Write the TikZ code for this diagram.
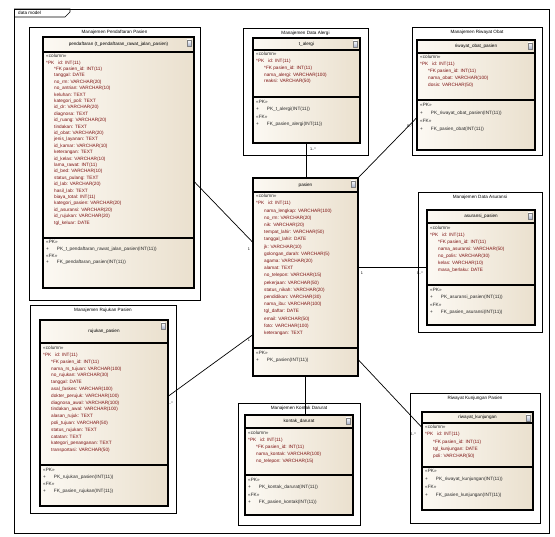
\documentclass[tikz,border=0pt]{standalone}
\usepackage{fontspec}
\newfontfamily\eafont{Liberation Sans}
\usetikzlibrary{fit}

\definecolor{tblleft}{RGB}{252,249,243}
\definecolor{tblright}{RGB}{234,224,206}
\definecolor{fieldred}{RGB}{125,18,18}
\definecolor{opgray}{RGB}{40,40,40}
\definecolor{iconblue}{RGB}{170,180,205}

\tikzset{
	framebox/.style={draw=black, line width=0.6pt},
	pkgbox/.style={draw=black, fill=white, line width=0.7pt, inner sep=0pt},
	pkgtitle/.style={font=\eafont\fontsize{4.6}{5}\selectfont, inner sep=0pt},
	tblbox/.style={draw=black, line width=1.1pt, inner sep=0pt},
	tblname/.style={font=\eafont\fontsize{4.6}{5}\selectfont, inner sep=0pt},
	tbltext/.style={font=\eafont\fontsize{4.7}{#1}\selectfont, align=left, anchor=north west, inner sep=0pt, text=fieldred},
	tbltext/.default=6.6,
	optext/.style={font=\eafont\fontsize{4.7}{#1}\selectfont, align=left, anchor=north west, inner sep=0pt, text=opgray},
	optext/.default=7,
	link/.style={draw=black, line width=0.7pt},
	mult/.style={font=\eafont\fontsize{3.8}{4}\selectfont, inner sep=0.5pt},
}

% #1 name, #2 x0, #3 y0, #4 x1, #5 y1, #6 title
\newcommand\pkgframe[6]{%
	\node[pkgbox, fit={(#2,#3)(#4,#5)}] (#1) {};
	\node[pkgtitle] at ({(#2+#4)/2},{#3+5}) {#6};
}
% #1 name, #2 x0, #3 y0, #4 x1, #5 head, #6 sep, #7 y1, #8 title
\newcommand\tablebox[8]{%
	\shade[left color=tblleft, right color=tblright] (#2,#3) rectangle (#4,#7);
	\node[tblbox, fit={(#2,#3)(#4,#7)}] (#1) {};
	\draw[line width=1.1pt] (#2,#5) -- (#4,#5);
	\draw[line width=1.1pt] (#2,#6) -- (#4,#6);
	\node[tblname] at ({(#2+#4)/2},{(#3+#5)/2}) {#8};
	\shade[top color=white, bottom color=iconblue, draw=gray] ({#4-7},{#3+3}) rectangle ({#4-3},{#3+9});
}
\newcommand\fld[1]{\hspace*{8pt}#1}
\newcommand\opr[1]{+\hspace*{8pt}#1}

\begin{document}
\begin{tikzpicture}[x=1pt,y=1pt,yscale=-1]
	\useasboundingbox (0,0) rectangle (555,537);
	% diagram frame
	\draw[framebox] (14,9) rectangle (549,533);
	\draw[framebox] (14,9) -- (70,9) -- (70,12) -- (65,17) -- (14,17);
	\node[pkgtitle, anchor=west] at (18,13) {data model};

	% packages
	\pkgframe{pkgdaftar}{29}{27}{200}{300}{Manajemen Pendaftaran Pasien}
	\pkgframe{pkgalergi}{243}{28}{368}{155}{Manajemen Data Alergi}
	\pkgframe{pkgobat}{412}{27}{542}{155}{Manajemen Riwayat Obat}
	\pkgframe{pkgasuransi}{418}{192}{542}{332}{Manajemen Data Asuransi}
	\pkgframe{pkgkontak}{238}{403}{360}{525}{Manajemen Kontak Darurat}
	\pkgframe{pkgkunjungan}{410}{393}{540}{523}{Riwayat Kunjungan Pasien}
	\pkgframe{pkgrujukan}{30}{305}{176}{513}{Manajemen Rujukan Pasien}

	% tables
	\tablebox{daftar}{43}{37}{194}{52}{238}{288}{pendaftaran (t\_pendaftaran\_rawat\_jalan\_pasien)}
	\node[tbltext=6.4] at (46,54) {\textcolor{opgray}{«column»}\\
		*PK\hspace*{4pt}id: INT(11)\\
		\fld{*FK pasien\_id: INT(11)}\\ \fld{tanggal: DATE}\\ \fld{no\_rm: VARCHAR(20)}\\
		\fld{no\_antrian: VARCHAR(10)}\\ \fld{keluhan: TEXT}\\ \fld{kategori\_poli: TEXT}\\
		\fld{id\_dr: VARCHAR(20)}\\ \fld{diagnosa: TEXT}\\ \fld{id\_ruang: VARCHAR(20)}\\
		\fld{tindakan: TEXT}\\ \fld{id\_obat: VARCHAR(20)}\\ \fld{jenis\_layanan: TEXT}\\
		\fld{id\_kamar: VARCHAR(10)}\\ \fld{keterangan: TEXT}\\ \fld{id\_kelas: VARCHAR(10)}\\
		\fld{lama\_rawat: INT(11)}\\ \fld{id\_bed: VARCHAR(10)}\\ \fld{status\_pulang: TEXT}\\
		\fld{id\_lab: VARCHAR(20)}\\ \fld{hasil\_lab: TEXT}\\ \fld{biaya\_total: INT(11)}\\
		\fld{kategori\_pasien: VARCHAR(20)}\\ \fld{id\_asuransi: VARCHAR(20)}\\
		\fld{id\_rujukan: VARCHAR(20)}\\ \fld{tgl\_keluar: DATE}};
	\node[optext=6.8] at (46,240) {«PK»\\ \opr{PK\_t\_pendaftaran\_rawat\_jalan\_pasien(INT(11))}\\
		«FK»\\ \opr{FK\_pendaftaran\_pasien(INT(11))}};

	\tablebox{alergi}{253}{38}{360}{50}{97}{143}{t\_alergi}
	\node[tbltext=6.8] at (256,52) {\textcolor{opgray}{«column»}\\ *PK\hspace*{4pt}id: INT(11)\\
		\fld{*FK pasien\_id: INT(11)}\\ \fld{nama\_alergi: VARCHAR(100)}\\ \fld{reaksi: VARCHAR(50)}};
	\node[optext=7.5] at (256,100) {«PK»\\ \opr{PK\_t\_alergi(INT(11))}\\ «FK»\\ \opr{FK\_pasien\_alergi(INT(11))}};

	\tablebox{obat}{417}{40}{535}{53}{100}{150}{riwayat\_obat\_pasien}
	\node[tbltext=7] at (420,55) {\textcolor{opgray}{«column»}\\ *PK\hspace*{4pt}id: INT(11)\\
		\fld{*FK pasien\_id: INT(11)}\\ \fld{nama\_obat: VARCHAR(100)}\\ \fld{dosis: VARCHAR(50)}};
	\node[optext=8] at (420,103) {«PK»\\ \opr{PK\_riwayat\_obat\_pasien(INT(11))}\\ «FK»\\ \opr{FK\_pasien\_obat(INT(11))}};

	\tablebox{pasien}{253}{178}{358}{192}{348}{376}{pasien}
	\node[tbltext=7.2] at (256,194) {\textcolor{opgray}{«column»}\\ *PK\hspace*{4pt}id: INT(11)\\
		\fld{nama\_lengkap: VARCHAR(100)}\\ \fld{no\_rm: VARCHAR(20)}\\ \fld{nik: VARCHAR(20)}\\
		\fld{tempat\_lahir: VARCHAR(50)}\\ \fld{tanggal\_lahir: DATE}\\ \fld{jk: VARCHAR(10)}\\
		\fld{golongan\_darah: VARCHAR(5)}\\ \fld{agama: VARCHAR(20)}\\ \fld{alamat: TEXT}\\
		\fld{no\_telepon: VARCHAR(15)}\\ \fld{pekerjaan: VARCHAR(50)}\\ \fld{status\_nikah: VARCHAR(20)}\\
		\fld{pendidikan: VARCHAR(30)}\\ \fld{nama\_ibu: VARCHAR(100)}\\ \fld{tgl\_daftar: DATE}\\
		\fld{email: VARCHAR(50)}\\ \fld{foto: VARCHAR(100)}\\ \fld{keterangan: TEXT}};
	\node[optext=7.5] at (256,351) {«PK»\\ \opr{PK\_pasien(INT(11))}};

	\tablebox{asuransi}{427}{210}{535}{223}{285}{325}{asuransi\_pasien}
	\node[tbltext=7] at (430,226) {\textcolor{opgray}{«column»}\\ *PK\hspace*{4pt}id: INT(11)\\
		\fld{*FK pasien\_id: INT(11)}\\ \fld{nama\_asuransi: VARCHAR(50)}\\ \fld{no\_polis: VARCHAR(30)}\\
		\fld{kelas: VARCHAR(10)}\\ \fld{masa\_berlaku: DATE}};
	\node[optext=7.5] at (430,288) {«PK»\\ \opr{PK\_asuransi\_pasien(INT(11))}\\ «FK»\\ \opr{FK\_pasien\_asuransi(INT(11))}};

	\tablebox{kontak}{245}{415}{353}{428}{475}{515}{kontak\_darurat}
	\node[tbltext=7] at (248,431) {\textcolor{opgray}{«column»}\\ *PK\hspace*{4pt}id: INT(11)\\
		\fld{*FK pasien\_id: INT(11)}\\ \fld{nama\_kontak: VARCHAR(100)}\\ \fld{no\_telepon: VARCHAR(15)}};
	\node[optext=7.5] at (248,478) {«PK»\\ \opr{PK\_kontak\_darurat(INT(11))}\\ «FK»\\ \opr{FK\_pasien\_kontak(INT(11))}};

	\tablebox{kunjungan}{422}{412}{533}{423}{467}{510}{riwayat\_kunjungan}
	\node[tbltext=7.3] at (425,425) {\textcolor{opgray}{«column»}\\ *PK\hspace*{4pt}id: INT(11)\\
		\fld{*FK pasien\_id: INT(11)}\\ \fld{tgl\_kunjungan: DATE}\\ \fld{poli: VARCHAR(50)}};
	\node[optext=8] at (425,469) {«PK»\\ \opr{PK\_riwayat\_kunjungan(INT(11))}\\ «FK»\\ \opr{FK\_pasien\_kunjungan(INT(11))}};

	\tablebox{rujukan}{40}{320}{168}{343}{465}{506}{rujukan\_pasien}
	\node[tbltext=6.8] at (43,346) {\textcolor{opgray}{«column»}\\ *PK\hspace*{4pt}id: INT(11)\\
		\fld{*FK pasien\_id: INT(11)}\\ \fld{nama\_rs\_tujuan: VARCHAR(100)}\\ \fld{no\_rujukan: VARCHAR(30)}\\
		\fld{tanggal: DATE}\\ \fld{asal\_faskes: VARCHAR(100)}\\ \fld{dokter\_perujuk: VARCHAR(100)}\\
		\fld{diagnosa\_awal: VARCHAR(100)}\\ \fld{tindakan\_awal: VARCHAR(100)}\\ \fld{alasan\_rujuk: TEXT}\\
		\fld{poli\_tujuan: VARCHAR(50)}\\ \fld{status\_rujukan: TEXT}\\ \fld{catatan: TEXT}\\
		\fld{kategori\_penanganan: TEXT}\\ \fld{transportasi: VARCHAR(50)}};
	\node[optext=7] at (43,468) {«PK»\\ \opr{PK\_rujukan\_pasien(INT(11))}\\ «FK»\\ \opr{FK\_pasien\_rujukan(INT(11))}};

	% relations
	\draw[link] (daftar.east |- 0,182) -- (pasien.west |- 0,242);
	\draw[link] (rujukan.east |- 0,396) -- (pasien.west |- 0,335);
	\draw[link] (alergi.south) -- (alergi.south |- pasien.north);
	\draw[link] (pasien.north east) -- (obat.west |- 0,118);
	\draw[link] (pasien.east |- 0,267) -- (asuransi.west |- 0,267);
	\draw[link] (pasien.south) -- (kontak.north -| pasien.south);
	\draw[link] (pasien.east |- 0,360) -- (kunjungan.west |- 0,427);

	% multiplicities
	\node[mult] at (313,149) {1..*};
	\node[mult] at (410,126) {0..*};
	\node[mult] at (249,249) {1};
	\node[mult] at (249,340) {1};
	\node[mult] at (362,273) {1};
	\node[mult] at (420,273) {0..*};
	\node[mult] at (413,434) {0..*};
	\node[mult] at (170,403) {0..*};
\end{tikzpicture}
\end{document}
